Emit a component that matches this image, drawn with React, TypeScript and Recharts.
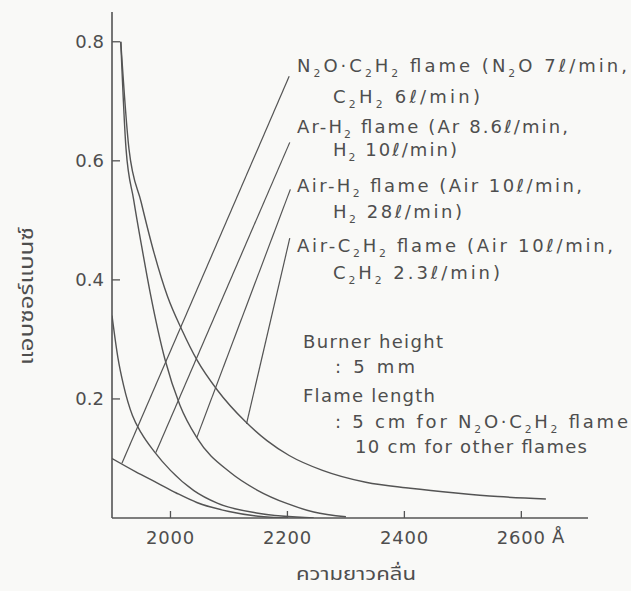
import React from 'react';
import { LineChart, Line, XAxis, YAxis, ReferenceLine } from 'recharts';

// ---- data (wavelength in Å, absorbance) ----
const n2oC2h2Wavelength = [1900, 1940, 1977, 2010, 2045, 2100, 2150, 2200];
const n2oC2h2Absorbance = [0.1, 0.078, 0.059, 0.042, 0.026, 0.011, 0.003, 0.0];

const arH2Wavelength = [1900, 1910, 1920, 1935, 1950, 1972, 2000, 2040, 2080, 2150, 2245];
const arH2Absorbance = [0.34, 0.27, 0.222, 0.172, 0.143, 0.112, 0.08, 0.046, 0.025, 0.008, 0.0];

const airH2Wavelength = [1915, 1924, 1937, 1951, 1965, 1991, 2016, 2045, 2103, 2148, 2200, 2245, 2300];
const airH2Absorbance = [0.8, 0.62, 0.535, 0.455, 0.38, 0.265, 0.19, 0.135, 0.076, 0.047, 0.024, 0.01, 0.002];

const airC2h2Wavelength = [1915, 1929, 1950, 1972, 1995, 2020, 2045, 2080, 2128, 2165, 2203, 2260, 2334, 2410, 2488, 2560, 2642];
const airC2h2Absorbance = [0.8, 0.62, 0.53, 0.445, 0.372, 0.315, 0.266, 0.215, 0.162, 0.13, 0.105, 0.08, 0.06, 0.05, 0.042, 0.036, 0.032];

// leader lines from the labels to the curves (data coordinates)
const leaderTopWavelength = [2203, 2204, 2205, 2204];
const leaderTopAbsorbance = [0.742, 0.631, 0.552, 0.47];
const leaderEndWavelength = [1917, 1975, 2045, 2130];
const leaderEndAbsorbance = [0.092, 0.11, 0.135, 0.158];

const xTicks = [2000, 2200, 2400, 2600];
const yTicks = [0.2, 0.4, 0.6, 0.8];

const flameLabels = [
  'N_2O·C_2H_2 flame (N_2O 7ℓ/min,',
  'C_2H_2 6ℓ/min)',
  'Ar-H_2 flame (Ar 8.6ℓ/min,',
  'H_2 10ℓ/min)',
  'Air-H_2 flame (Air 10ℓ/min,',
  'H_2 28ℓ/min)',
  'Air-C_2H_2 flame (Air 10ℓ/min,',
  'C_2H_2 2.3ℓ/min)',
];
const noteLabels = [
  'Burner height',
  ': 5 mm',
  'Flame length',
  ': 5 cm for N_2O·C_2H_2 flame',
  '10 cm for other flames',
];
const yAxisTitle = 'แอบซอร์แบนซ์';
const xAxisTitle = 'ความยาวคลื่น';
const xUnit = 'Å';

// ---- layout (pixels) ----
const flameLayout = [
  { x: 297, y: 72, w: 330 },
  { x: 333, y: 103, w: 147 },
  { x: 297, y: 133, w: 271 },
  { x: 333, y: 156, w: 124 },
  { x: 297, y: 192, w: 285 },
  { x: 333, y: 218, w: 129 },
  { x: 297, y: 252, w: 316 },
  { x: 333, y: 279, w: 167 },
];
const noteLayout = [
  { x: 303, y: 348, w: 140 },
  { x: 335, y: 373, w: 80 },
  { x: 303, y: 402, w: 132 },
  { x: 335, y: 428, w: 293 },
  { x: 355, y: 453, w: 232 },
];

const toPoints = (xs: number[], ys: number[]) => xs.map((x, i) => ({ x, a: ys[i] }));

const series = [
  { name: 'N2O-C2H2', data: toPoints(n2oC2h2Wavelength, n2oC2h2Absorbance) },
  { name: 'Ar-H2', data: toPoints(arH2Wavelength, arH2Absorbance) },
  { name: 'Air-H2', data: toPoints(airH2Wavelength, airH2Absorbance) },
  { name: 'Air-C2H2', data: toPoints(airC2h2Wavelength, airC2h2Absorbance) },
];

const INK = '#545454';
const TEXT = '#4e4e4e';
const FONT = '"DejaVu Sans", "Noto Sans", sans-serif';
const THAI_FONT = '"Noto Sans Thai", "Noto Sans", sans-serif';

function RichLine({ x, y, text, width, size = 18 }: { x: number; y: number; text: string; width: number; size?: number }) {
  const parts = text.split(/(_\d)/).filter((p) => p !== '');
  let shifted = false;
  const kids = parts.map((p, i) => {
    if (p.startsWith('_')) {
      shifted = true;
      return (
        <tspan key={i} dy={5} fontSize={size * 0.6}>
          {p.slice(1)}
        </tspan>
      );
    }
    const dy = shifted ? -5 : 0;
    shifted = false;
    return (
      <tspan key={i} dy={dy}>
        {p}
      </tspan>
    );
  });
  return (
    <text x={x} y={y} textLength={width} lengthAdjust="spacing" fontSize={size} fill={TEXT} fontFamily={FONT}>
      {kids}
    </text>
  );
}

export default function App() {
  return (
    <div style={{ position: 'absolute', left: 0, top: 0, width: 631, height: 591, background: '#f9f9f7' }}>
      <LineChart width={631} height={591} margin={{ top: 12, right: 43, bottom: 33, left: 52 }}>
        <XAxis
          dataKey="x"
          type="number"
          domain={[1900, 2714]}
          ticks={xTicks}
          height={40}
          tickSize={-7}
          tickMargin={20}
          stroke={INK}
          axisLine={{ stroke: INK, strokeWidth: 1.6 }}
          tickLine={{ stroke: INK, strokeWidth: 1.3 }}
          tick={{ fill: TEXT, fontSize: 18, fontFamily: FONT, letterSpacing: 0.8 }}
          allowDataOverflow
        />
        <YAxis
          dataKey="a"
          type="number"
          domain={[0, 0.85]}
          ticks={yTicks}
          width={60}
          tickSize={-8}
          tickMargin={16}
          tickFormatter={(v: number) => v.toFixed(1)}
          stroke={INK}
          axisLine={{ stroke: INK, strokeWidth: 1.6 }}
          tickLine={{ stroke: INK, strokeWidth: 1.3 }}
          tick={{ fill: TEXT, fontSize: 18, fontFamily: FONT }}
          allowDataOverflow
        />
        {series.map((s) => (
          <Line
            key={s.name}
            name={s.name}
            data={s.data}
            dataKey="a"
            type="monotone"
            stroke={INK}
            strokeWidth={1.4}
            dot={false}
            activeDot={false}
            isAnimationActive={false}
          />
        ))}
        {leaderTopWavelength.map((x, i) => (
          <ReferenceLine
            key={'lead' + i}
            segment={[
              { x, y: leaderTopAbsorbance[i] },
              { x: leaderEndWavelength[i], y: leaderEndAbsorbance[i] },
            ]}
            stroke={INK}
            strokeWidth={1.2}
          />
        ))}
      </LineChart>
      <svg
        width={631}
        height={591}
        style={{ position: 'absolute', left: 0, top: 0, pointerEvents: 'none' }}
      >
        {flameLabels.map((t, i) => (
          <RichLine key={'f' + i} x={flameLayout[i].x} y={flameLayout[i].y} width={flameLayout[i].w} text={t} />
        ))}
        {noteLabels.map((t, i) => (
          <RichLine key={'n' + i} x={noteLayout[i].x} y={noteLayout[i].y} width={noteLayout[i].w} text={t} />
        ))}
        <text x={552} y={543} fontSize={18} fill={TEXT} fontFamily={FONT}>
          {xUnit}
        </text>
        <text
          x={296}
          y={580}
          fontSize={18}
          fill={TEXT}
          textLength={120}
          lengthAdjust="spacingAndGlyphs"
          fontFamily={THAI_FONT}
        >
          {xAxisTitle}
        </text>
        <text
          transform="translate(33,365) rotate(-90)"
          fontSize={20}
          fill={TEXT}
          textLength={138}
          lengthAdjust="spacingAndGlyphs"
          fontFamily={THAI_FONT}
        >
          {yAxisTitle}
        </text>
      </svg>
    </div>
  );
}
